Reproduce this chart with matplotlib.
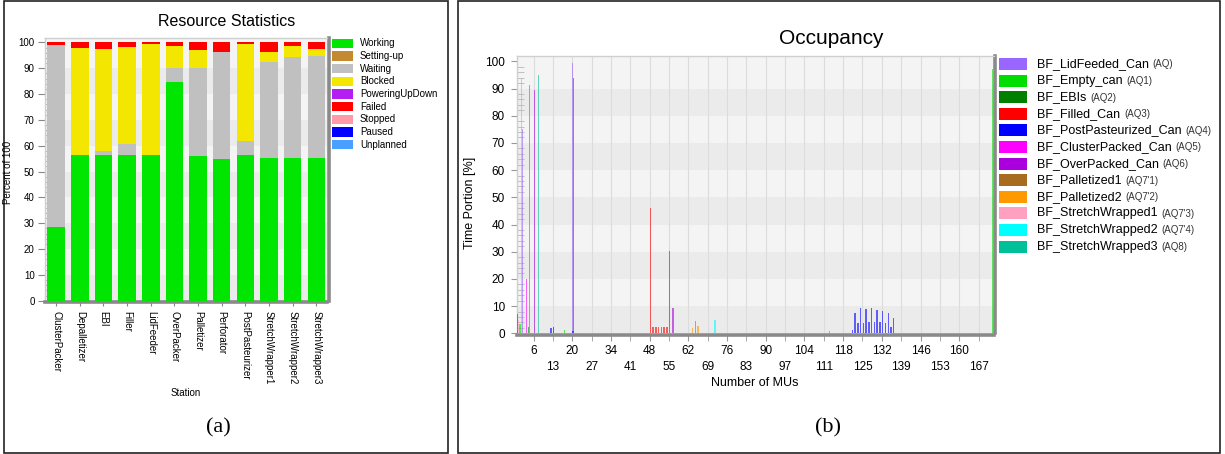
import numpy as np
import matplotlib
matplotlib.use("Agg")
import matplotlib.pyplot as plt
from matplotlib.patches import Rectangle
from matplotlib.ticker import MultipleLocator

plt.rcParams['font.family'] = ['Liberation Sans', 'DejaVu Sans']

W, H = 1225, 454

# ---- (a) Resource Statistics ----
stations = ['ClusterPacker', 'Depalletizer', 'EBI', 'Filler', 'LidFeeder', 'OverPacker',
            'Palletizer', 'Perforator', 'PostPasteurizer', 'StretchWrapper1',
            'StretchWrapper2', 'StretchWrapper3']
working = [28.5, 56.5, 56.5, 56.5, 56.5, 84.8, 56.2, 55.0, 56.5, 55.1, 55.3, 55.1]
setting_up = [0] * 12
waiting = [70.3, 0, 1.5, 4.2, 0, 5.2, 33.9, 41.3, 5.3, 37.4, 39.2, 39.8]
blocked = [0, 41.3, 39.5, 37.6, 42.8, 8.7, 7.1, 0, 37.4, 3.8, 4.2, 2.6]
powering = [0] * 12
failed = [1.2, 2.2, 2.5, 1.7, 0.7, 1.3, 2.8, 3.7, 0.8, 3.7, 1.3, 2.5]
stopped = [0] * 12
paused = [0] * 12
unplanned = [0] * 12

state_names = ['Working', 'Setting-up', 'Waiting', 'Blocked', 'PoweringUpDown',
               'Failed', 'Stopped', 'Paused', 'Unplanned']
state_colors = ['#00e600', '#c48a32', '#c0c0c0', '#f3e600', '#b41ef0',
                '#ff0000', '#ff9aa8', '#0000ff', '#4aa0ff']
state_values = [working, setting_up, waiting, blocked, powering,
                failed, stopped, paused, unplanned]

# ---- (b) Occupancy ----
lid_x, lid_y = [2, 20], [75, 99.3]
empty_x, empty_y = [1, 17, 113, 172], [3.4, 1.2, 0.7, 97]
ebis_x, ebis_y = [4], [2.4]
filled_x = [0, 48, 49, 50, 51, 52, 53, 54, 55]
filled_y = [7, 46, 2.5, 2.5, 2.5, 2.5, 2.5, 2.5, 30.3]
post_x = [12, 13, 20] + list(range(121, 137))
post_y = [2.1, 2.5, 0.9, 1.2, 7.3, 3.9, 9.2, 3.9, 8.9, 4.0, 9.2, 4.3, 8.6, 4.0, 8.1,
          3.9, 7.6, 2.2, 5.6]
cluster_x, cluster_y = [3], [19.8]
over_x, over_y = [6, 20, 56], [89.5, 93.8, 9.2]
pal1_x, pal1_y = [4, 64], [91.3, 4.5]
pal2_x, pal2_y = [63, 65], [2.0, 2.7]
sw1_x, sw1_y = [0], [5.0]
sw2_x, sw2_y = [1, 71], [93.4, 4.8]
sw3_x, sw3_y = [7], [95.0]

buffer_names = ['BF_LidFeeded_Can', 'BF_Empty_can', 'BF_EBIs', 'BF_Filled_Can',
                'BF_PostPasteurized_Can', 'BF_ClusterPacked_Can', 'BF_OverPacked_Can',
                'BF_Palletized1', 'BF_Palletized2', 'BF_StretchWrapped1',
                'BF_StretchWrapped2', 'BF_StretchWrapped3']
buffer_codes = ['(AQ)', '(AQ1)', '(AQ2)', '(AQ3)', '(AQ4)', '(AQ5)', '(AQ6)',
                "(AQ7'1)", "(AQ7'2)", "(AQ7'3)", "(AQ7'4)", '(AQ8)']
buffer_colors = ['#9966ff', '#00dd00', '#007f00', '#ff0000', '#0000ff', '#ff00ff',
                 '#aa00dd', '#a86c20', '#ff9900', '#ffa0c0', '#00ffff', '#00c09a']
buffer_data = [(lid_x, lid_y), (empty_x, empty_y), (ebis_x, ebis_y), (filled_x, filled_y),
               (post_x, post_y), (cluster_x, cluster_y), (over_x, over_y),
               (pal1_x, pal1_y), (pal2_x, pal2_y), (sw1_x, sw1_y), (sw2_x, sw2_y),
               (sw3_x, sw3_y)]
mu_ticks = list(range(6, 168, 7))


def fx(x):
    return x / W


def fy(y):
    return 1 - y / H


def box_px(x0, y0, x1, y1, **kw):
    fig.add_artist(Rectangle((fx(x0), fy(y1)), (x1 - x0) / W, (y1 - y0) / H,
                             transform=fig.transFigure, **kw))


def style_axes(ax, top):
    ax.set_facecolor('#f4f4f4')
    for lo in range(0, 100, 20):
        ax.axhspan(lo, lo + 10, color='#ebebeb', lw=0, zorder=0)
    for s in ('top', 'left'):
        ax.spines[s].set_color('#cfcfcf')
        ax.spines[s].set_linewidth(1)
    for s in ('right', 'bottom'):
        ax.spines[s].set_color('#8a8a8a')
        ax.spines[s].set_linewidth(2.6)
        ax.spines[s].set_position(('outward', 1.2))
    ax.set_ylim(0, top)
    ax.set_yticks(range(0, 101, 10))
    ax.yaxis.set_minor_locator(MultipleLocator(2))


fig = plt.figure(figsize=(W / 100, H / 100), dpi=100)

# panel frames
box_px(4, 1, 448, 453, fill=False, edgecolor='#222222', lw=1.2)
box_px(458, 1, 1220, 453, fill=False, edgecolor='#222222', lw=1.2)

# ---------- panel (a) ----------
ax_a = fig.add_axes([fx(45), fy(300.7), (327 - 45) / W, (300.7 - 37.7) / H])
style_axes(ax_a, 101.8)
pos = np.arange(len(stations))
bottom = np.zeros(len(stations))
for vals, col in zip(state_values, state_colors):
    ax_a.bar(pos, vals, bottom=bottom, width=0.74, color=col, lw=0, zorder=3)
    bottom += np.array(vals)
ax_a.set_xlim(-0.47, 11.45)
ax_a.set_xticks(pos)
ax_a.set_xticklabels(stations, rotation=270, fontsize=7)
ax_a.tick_params(axis='x', length=3, pad=3, color='#888888')
ax_a.tick_params(axis='y', which='major', labelsize=7, length=5, pad=2.5, color='#888888')
ax_a.tick_params(axis='y', which='minor', direction='in', length=3, color='#aaaaaa')

fig.text(fx(227), fy(22), 'Resource Statistics', fontsize=11.5, ha='center', va='center')
fig.text(fx(8.5), fy(172), 'Percent of 100', fontsize=7, rotation=90, ha='center', va='center')
fig.text(fx(186), fy(393), 'Station', fontsize=7, ha='center', va='center')

for k, (name, col) in enumerate(zip(state_names, state_colors)):
    yc = 43.3 + 12.67 * k
    box_px(331.7, yc - 4.7, 352.7, yc + 4.7, facecolor=col, edgecolor='none')
    fig.text(fx(360), fy(yc), name, fontsize=7, ha='left', va='center')

fig.text(fx(218), fy(428), '(a)', fontsize=16, family='Liberation Serif',
         ha='center', va='center')

# ---------- panel (b) ----------
ax_b = fig.add_axes([fx(516.7), fy(333.3), (993.5 - 516.7) / W, (333.3 - 56) / H])
style_axes(ax_b, 101.95)
ax_b.grid(axis='x', which='both', color='#dcdcdc', lw=0.8)
ax_b.set_axisbelow(True)
for i, ((xs, ys), col) in enumerate(zip(buffer_data, buffer_colors)):
    off = (i - 5.5) * 0.06 + 0.4
    ax_b.bar(np.array(xs) + off, ys, width=0.5, color=col, alpha=0.6, lw=0, zorder=3)
ax_b.set_xlim(-0.11, 172.4)
ax_b.set_xticks(mu_ticks[0::2])
ax_b.set_xticks(mu_ticks[1::2], minor=True)
ax_b.set_xticklabels([str(t) for t in mu_ticks[0::2]], fontsize=8.5)
ax_b.set_xticklabels([str(t) for t in mu_ticks[1::2]], minor=True, fontsize=8.5)
ax_b.tick_params(axis='x', which='major', length=4, pad=3, color='#999999')
ax_b.tick_params(axis='x', which='minor', length=4, pad=15, color='#999999')
ax_b.tick_params(axis='y', which='major', labelsize=8.5, length=4.5, pad=4, color='#999999')
ax_b.tick_params(axis='y', which='minor', direction='in', length=5, color='#b8b8b8')

fig.text(fx(831), fy(38), 'Occupancy', fontsize=15, ha='center', va='center')
fig.text(fx(469.5), fy(203), 'Time Portion [%]', fontsize=9, rotation=90,
         ha='center', va='center')
fig.text(fx(755), fy(383), 'Number of MUs', fontsize=9, ha='center', va='center')

for k, (name, code, col) in enumerate(zip(buffer_names, buffer_codes, buffer_colors)):
    yc = 64 + 16.6 * k
    box_px(999.3, yc - 6, 1027.3, yc + 6, facecolor=col, edgecolor='none')
    t = fig.text(fx(1036.7), fy(yc), name, fontsize=9, ha='left', va='center')
    ax_b.annotate(code, xy=(1, 0), xycoords=t, xytext=(3, 0.5), textcoords='offset points',
                  fontsize=7, color='#333333', ha='left', va='bottom',
                  annotation_clip=False)

fig.text(fx(828), fy(428), '(b)', fontsize=16, family='Liberation Serif',
         ha='center', va='center')

fig.savefig('out.png', dpi=100)
